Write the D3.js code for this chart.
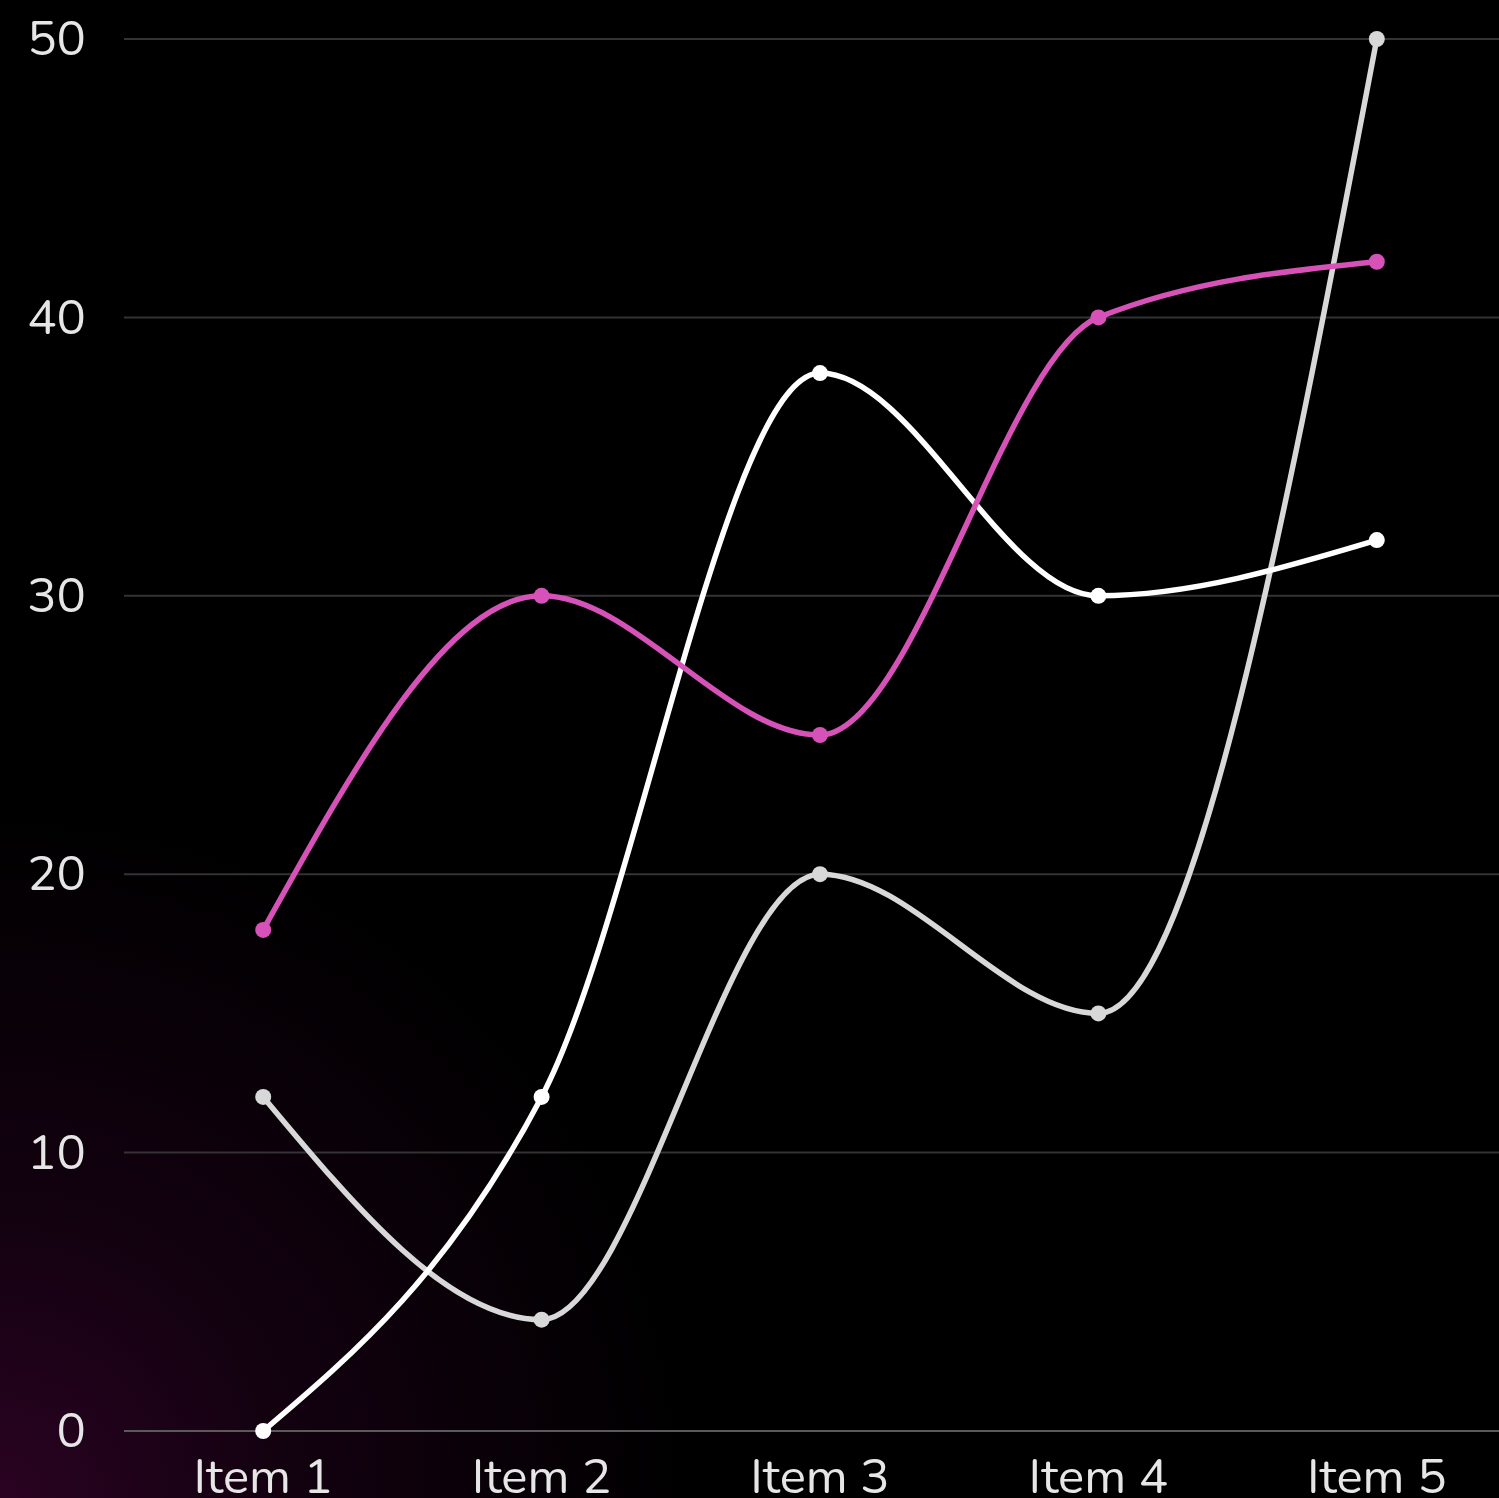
<!DOCTYPE html>
<html>
<head>
<meta charset="utf-8">
<script src="https://cdn.jsdelivr.net/npm/d3@7"></script>
<style>
  html, body { margin: 0; padding: 0; background: #000; overflow: hidden; }
  svg { display: block; }
</style>
</head>
<body>
<div id="chart"></div>
<script>
// Chart data
const categories = ["Item 1", "Item 2", "Item 3", "Item 4", "Item 5"];
const pinkSeries = [18, 30, 25, 40, 42];
const whiteSeries = [0, 12, 38, 30, 32];
const graySeries = [12, 4, 20, 15, 50];
const yTicks = [0, 10, 20, 30, 40, 50];

const series = [
  { name: "gray", values: graySeries, color: "#d8d8d8" },
  { name: "white", values: whiteSeries, color: "#ffffff" },
  { name: "pink", values: pinkSeries, color: "#d652b8" }
];

const width = 1499;
const height = 1498;
const margin = { top: 39, right: -17, bottom: 67, left: 124 };
const font = "Nunito, Lato, 'Open Sans', sans-serif";

const svg = d3.select("#chart")
  .append("svg")
  .attr("width", width)
  .attr("height", height);

// Background glow in the bottom-left corner
const defs = svg.append("defs");
const glow = defs.append("radialGradient")
  .attr("id", "glow")
  .attr("cx", 0).attr("cy", height).attr("r", 700)
  .attr("gradientUnits", "userSpaceOnUse");
glow.append("stop").attr("offset", "0%").attr("stop-color", "#2a0322");
glow.append("stop").attr("offset", "40%").attr("stop-color", "#130110");
glow.append("stop").attr("offset", "100%").attr("stop-color", "#000000");

svg.append("rect")
  .attr("width", width)
  .attr("height", height)
  .attr("fill", "url(#glow)");

// Scales
const xScale = d3.scaleBand()
  .domain(categories)
  .range([margin.left, width - margin.right]);

const yScale = d3.scaleLinear()
  .domain([0, 50])
  .range([height - margin.bottom, margin.top]);

const xPos = d => xScale(d) + xScale.bandwidth() / 2;

// Gridlines
svg.append("g")
  .selectAll("line")
  .data(yTicks)
  .enter()
  .append("line")
  .attr("x1", margin.left)
  .attr("x2", width)
  .attr("y1", d => yScale(d))
  .attr("y2", d => yScale(d))
  .attr("stroke", d => d === 0 ? "#5a5a5a" : "#333333")
  .attr("stroke-width", 2);

// Y axis labels
const yAxis = d3.axisLeft(yScale)
  .tickValues(yTicks)
  .tickSize(0)
  .tickPadding(0);

svg.append("g")
  .attr("transform", "translate(86,0)")
  .call(yAxis)
  .call(g => g.select(".domain").remove())
  .selectAll("text")
  .attr("fill", "#e6e6e6")
  .style("font-family", font)
  .style("font-size", "49px");

// X axis labels (cut by the bottom edge, as in the original)
const xAxis = d3.axisBottom(xScale)
  .tickSize(0)
  .tickPadding(27);

svg.append("g")
  .attr("transform", `translate(0, ${height - margin.bottom})`)
  .call(xAxis)
  .call(g => g.select(".domain").remove())
  .selectAll("text")
  .attr("fill", "#e6e6e6")
  .style("font-family", font)
  .style("font-size", "49px");

// Lines
const line = d3.line()
  .x((d, i) => xPos(categories[i]))
  .y(d => yScale(d))
  .curve(d3.curveMonotoneX);

series.forEach(s => {
  svg.append("path")
    .datum(s.values)
    .attr("fill", "none")
    .attr("stroke", s.color)
    .attr("stroke-width", 5.5)
    .attr("d", line);

  svg.append("g")
    .selectAll("circle")
    .data(s.values)
    .enter()
    .append("circle")
    .attr("cx", (d, i) => xPos(categories[i]))
    .attr("cy", d => yScale(d))
    .attr("r", 8)
    .attr("fill", s.color);
});
</script>
</body>
</html>
